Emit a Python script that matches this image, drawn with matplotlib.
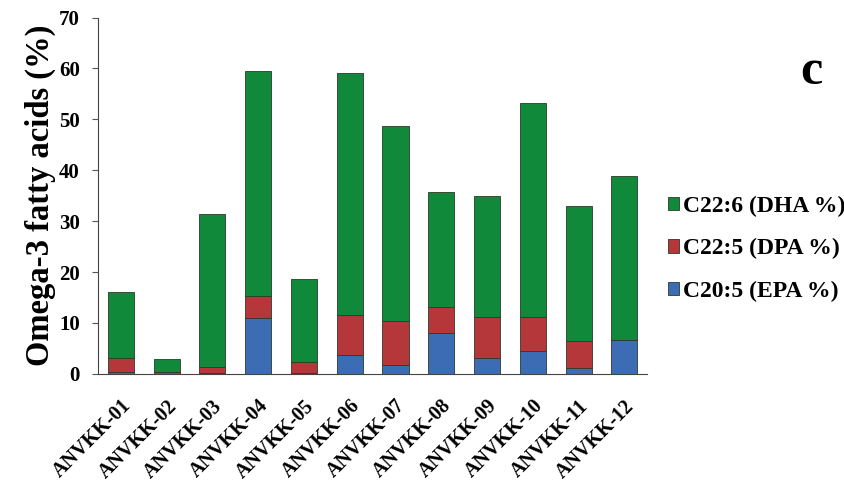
import matplotlib
matplotlib.use("Agg")
import matplotlib.pyplot as plt
import numpy as np

plt.rcParams["font.family"] = ["Liberation Serif", "DejaVu Serif"]
plt.rcParams["font.weight"] = "bold"

# Data (stacked omega-3 fatty acid percentages)
samples = ["ANVKK-01", "ANVKK-02", "ANVKK-03", "ANVKK-04", "ANVKK-05", "ANVKK-06",
           "ANVKK-07", "ANVKK-08", "ANVKK-09", "ANVKK-10", "ANVKK-11", "ANVKK-12"]
epa = [0.3, 0.0, 0.2, 10.9, 0.2, 3.7, 1.8, 8.1, 3.1, 4.5, 1.1, 6.7]
dpa = [2.8, 0.3, 1.2, 4.4, 2.2, 7.9, 8.5, 5.0, 8.1, 6.7, 5.4, 0.0]
dha = [13.0, 2.6, 30.1, 44.2, 16.2, 47.5, 38.4, 22.6, 23.8, 42.0, 26.5, 32.2]

color_epa = "#3b6cb4"
color_dpa = "#b5373a"
color_dha = "#10893b"

fig = plt.figure(figsize=(8.45, 4.88), dpi=100)
ax = fig.add_axes([0.116, 0.234, 0.65, 0.73])

x = np.arange(len(samples))
epa = np.array(epa)
dpa = np.array(dpa)
dha = np.array(dha)
w = 0.57
edge = dict(edgecolor="#2a3a2a", linewidth=0.6)
b_epa = ax.bar(x, epa, w, color=color_epa, label="C20:5 (EPA %)", **edge)
b_dpa = ax.bar(x, dpa, w, bottom=epa, color=color_dpa, label="C22:5 (DPA %)", **edge)
b_dha = ax.bar(x, dha, w, bottom=epa + dpa, color=color_dha, label="C22:6 (DHA %)", **edge)

ax.set_xlim(-0.5, 11.5)
ax.set_ylim(0, 70)
ax.set_yticks(range(0, 71, 10))
ax.set_xticks(x)
ax.set_xticklabels(samples, rotation=45, ha="right", rotation_mode="anchor",
                   fontsize=14.5, fontweight="bold")
ax.tick_params(axis="y", labelsize=15, length=4, pad=9, color="#555555")
ax.tick_params(axis="x", length=0, pad=16)
for lab in ax.get_yticklabels():
    lab.set_fontweight("bold")

ax.spines["top"].set_visible(False)
ax.spines["right"].set_visible(False)
ax.spines["left"].set_color("#444444")
ax.spines["bottom"].set_color("#444444")

ax.set_ylabel("Omega-3 fatty acids (%)", fontsize=23.5, fontweight="bold", labelpad=2)

fig.text(0.96, 0.852, "c", fontsize=36, fontweight="bold", ha="center", va="center")

leg = fig.legend(handles=[b_dha, b_dpa, b_epa], loc="center left",
                 bbox_to_anchor=(0.765, 0.49), frameon=False,
                 prop={"size": 17, "weight": "bold"},
                 handlelength=0.5, handleheight=0.5, handletextpad=0.15,
                 labelspacing=0.9)

fig.savefig("out.png", dpi=100)
